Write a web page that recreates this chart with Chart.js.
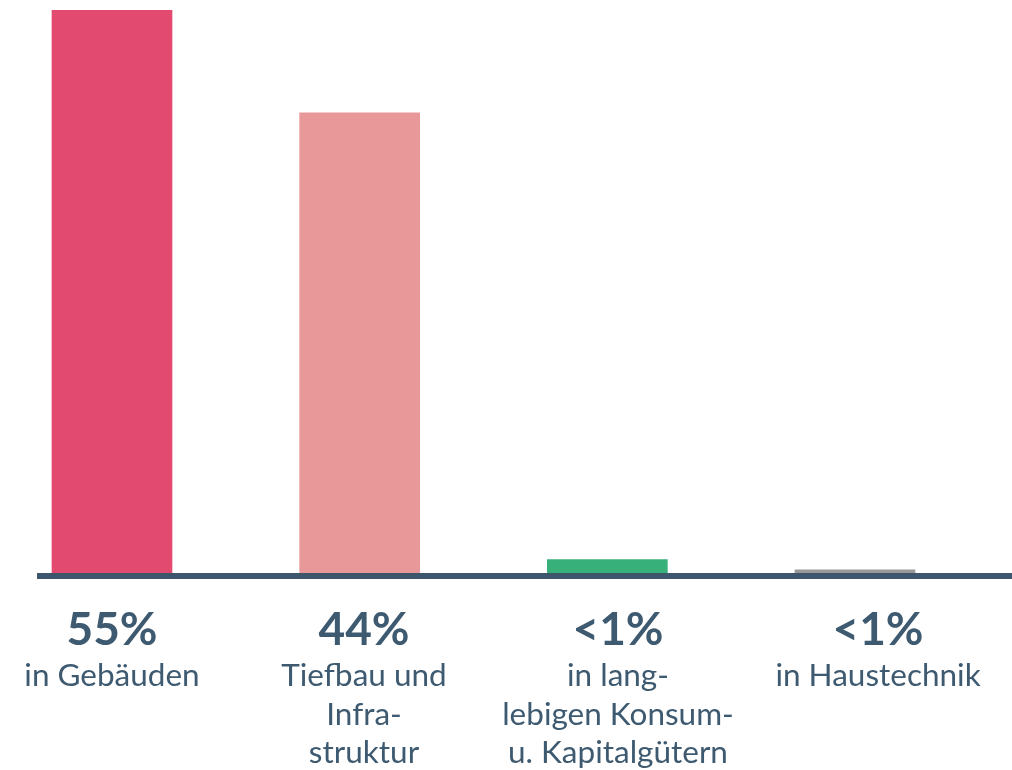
<!DOCTYPE html>
<html>
<head>
<meta charset="utf-8">
<script src="https://cdn.jsdelivr.net/npm/chart.js@4"></script>
<style>
  html, body { margin: 0; padding: 0; background: #ffffff; }
  #wrap { width: 1012px; height: 770px; position: relative; }
</style>
</head>
<body>
<div id="wrap"><canvas id="c" width="1012" height="770"></canvas></div>
<script>
// ---- data ----
const categories = ['Gebäude', 'Tiefbau und Infrastruktur', 'Konsum- u. Kapitalgüter', 'Haustechnik'];
const values = [55, 45, 1.6, 0.6];
const percentLabels = ['55%', '44%', '<1%', '<1%'];
const descLabels = [
  ['in Gebäuden'],
  ['Tiefbau und', 'Infra-', 'struktur'],
  ['in lang-', 'lebigen Konsum-', 'u. Kapitalgütern'],
  ['in Haustechnik']
];
const barColors = ['#e24b6f', '#e99899', '#37b07a', '#999999'];

// ---- layout / style ----
const TEXT = '#3e5a70';
const LINE = '#3d566b';
const X_MIN = -0.2907, X_MAX = 3.6218;
const labelNudge = [0, 0.0175, 0.043, 0.093];
const PCT_FONT = 'bold 46px Lato';
const DESC_FONT = '31.5px Lato';
const PCT_BASELINE = 69;     // px below the axis line
const DESC_BASELINE = 110;   // px below the axis line (first line)
const DESC_LINE = 38.5;

// category labels drawn under each bar, positioned with the x scale
const categoryLabels = {
  id: 'categoryLabels',
  afterDraw(chart) {
    const ctx = chart.ctx;
    const xs = chart.scales.x;
    const base = chart.scales.y.getPixelForValue(0);
    ctx.save();
    ctx.fillStyle = TEXT;
    ctx.textAlign = 'center';
    ctx.textBaseline = 'alphabetic';
    categories.forEach((_, i) => {
      const x = xs.getPixelForValue(i + labelNudge[i]);
      ctx.font = PCT_FONT;
      ctx.fillText(percentLabels[i], x, base + PCT_BASELINE);
      ctx.font = DESC_FONT;
      descLabels[i].forEach((line, k) => {
        ctx.fillText(line, x, base + DESC_BASELINE + k * DESC_LINE);
      });
    });
    ctx.restore();
  }
};

new Chart(document.getElementById('c'), {
  type: 'bar',
  data: {
    datasets: [{
      data: values.map((v, i) => ({ x: i, y: v })),
      backgroundColor: barColors,
      borderWidth: 0,
      barThickness: 120,
      xAxisID: 'x',
      yAxisID: 'y'
    }]
  },
  options: {
    responsive: false,
    animation: false,
    devicePixelRatio: 1,
    layout: { padding: { top: 10, left: 40, right: 3, bottom: 194 } },
    plugins: { legend: { display: false }, tooltip: { enabled: false } },
    scales: {
      y: { display: false, min: 0, max: 55 },
      x: {
        type: 'linear', position: 'bottom',
        min: X_MIN, max: X_MAX, bounds: 'data', offset: false,
        grid: { display: false, drawTicks: false, lineWidth: 6 },
        border: { display: true, color: LINE, width: 6, z: 1 },
        ticks: { display: false }
      }
    }
  },
  plugins: [categoryLabels]
});
</script>
</body>
</html>
